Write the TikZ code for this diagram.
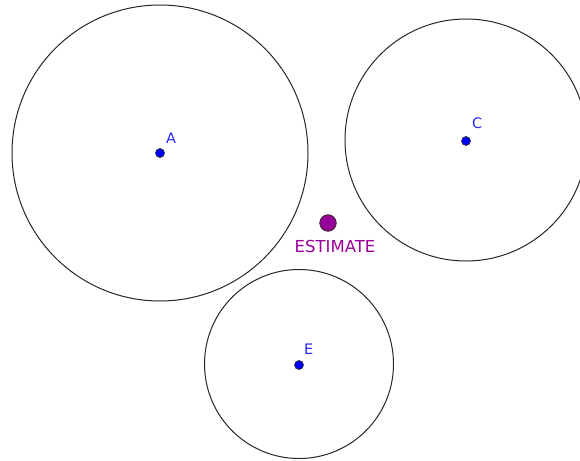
\documentclass[tikz,border=0pt]{standalone}
\usepackage{fontspec}
\setmainfont{DejaVu Sans}
\begin{document}
\begin{tikzpicture}[x=1pt,y=-1pt,
  circ/.style={draw=black!85,line width=1pt},
  pt/.style={circle,fill={rgb,255:red,0;green,0;blue,255},draw=black!80,line width=0.7pt,minimum size=9pt,inner sep=0pt},
  lbl/.style={anchor=base west,inner sep=0pt,text={rgb,255:red,40;green,40;blue,255},font=\fontsize{14.5}{14.5}\selectfont},
  est/.style={circle,fill={rgb,255:red,153;green,0;blue,153},draw=black!85,line width=0.8pt,minimum size=16.5pt,inner sep=0pt}]
\useasboundingbox (0,0) rectangle (580,460);
\clip (0,0) rectangle (580,460);
\draw[circ] (160,153) circle (148);
\draw[circ] (466,140) circle (121);
\draw[circ] (299,364) circle (94.5);
\node[pt] (A) at (160,153) {};
\node[pt] (C) at (466,141) {};
\node[pt] (E) at (299,365) {};
\node[lbl] (la) at (166,143) {A};
\node[lbl] (lc) at (472,128) {C};
\node[lbl] (le) at (304,354) {E};
\node[est] (est) at (328,223) {};
\node[anchor=base,inner sep=0pt,text={rgb,255:red,153;green,0;blue,153},font=\fontsize{16.5}{16.5}\selectfont] (lest) at (335,252) {ESTIMATE};
\end{tikzpicture}
\end{document}
